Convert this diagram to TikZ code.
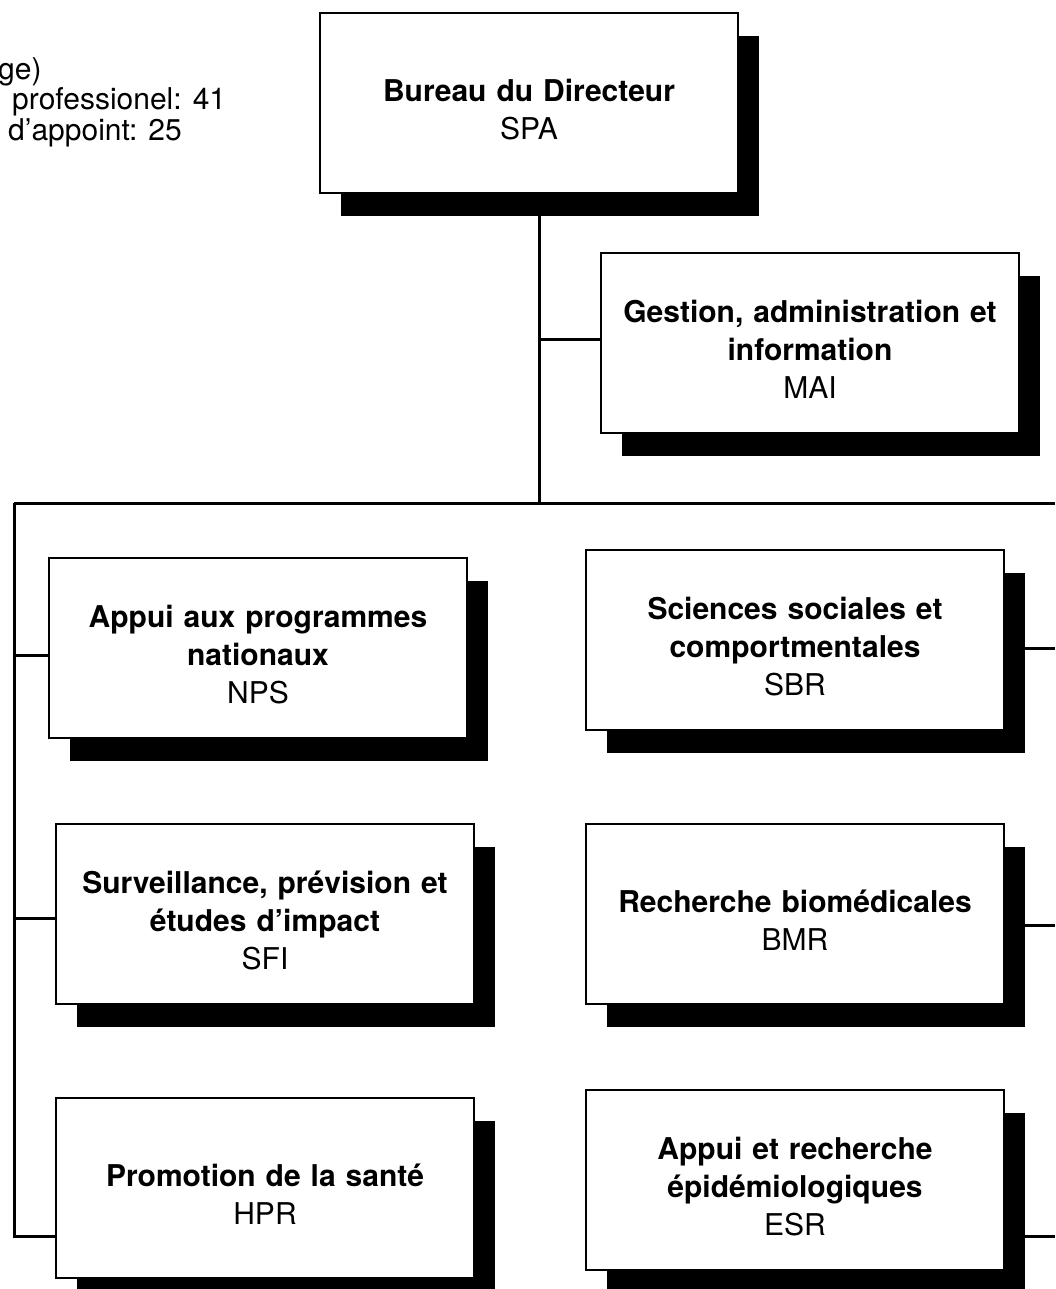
\documentclass[tikz,border=0pt]{standalone}
\usepackage{fontspec}
\setmainfont{TeX Gyre Heros}
\usetikzlibrary{positioning,shadows,calc}

\begin{document}
\begin{tikzpicture}[x=1pt,y=-1pt,font=\fontsize{30}{38}\selectfont]
 \tikzset{box/.style={draw,line width=2.5pt,fill=white,align=center,minimum width=418pt,minimum height=180pt,text width=405pt,
            text height=35pt,
            drop shadow={shadow xshift=21pt,shadow yshift=-23pt,fill=black,opacity=1}},
          conn/.style={line width=3pt},
          note/.style={anchor=base west,inner sep=0pt}}
 \useasboundingbox (0,0) rectangle (1055,1289);
 % effectifs, coupes au bord gauche
 \node[note] (eff1) at (-2,80) {ge)};
 \node[note] (eff2) at (12,110) {professionel: 41};
 \node[note] (eff3) at (8,141) {d'appoint: 25};
 % directeur et gestion
 \node[box] (spa) at (529,103) {\textbf{Bureau du Directeur}\\SPA};
 \node[box] (mai) at (810,343) {\textbf{Gestion, administration et}\\\textbf{information}\\MAI};
 % unites
 \node[box] (nps) at (258,648) {\textbf{Appui aux programmes}\\\textbf{nationaux}\\NPS};
 \node[box] (sbr) at (795,640) {\textbf{Sciences sociales et}\\\textbf{comportmentales}\\SBR};
 \node[box] (sfi) at (265,914) {\textbf{Surveillance, prévision et}\\\textbf{études d'impact}\\SFI};
 \node[box] (bmr) at (795,914) {\textbf{Recherche biomédicales}\\BMR};
 \node[box] (hpr) at (265,1188) {\textbf{Promotion de la santé}\\HPR};
 \node[box] (esr) at (795,1180) {\textbf{Appui et recherche}\\\textbf{épidémiologiques}\\ESR};
 % liaisons
 \coordinate (bus) at (539,503);
 \coordinate (busl) at (14,503);
 \coordinate (busr) at (1055,503);
 \draw[conn] (spa.south -| bus) -- (bus);
 \draw[conn] ([yshift=4pt]mai.west -| bus) -- ([yshift=4pt]mai.west);
 \draw[conn] (busl) -- (busr);
 \draw[conn] (busl) |- ([yshift=-48pt]hpr.west);
 \draw[conn] ([yshift=-7pt]nps.west -| busl) -- ([yshift=-7pt]nps.west);
 \draw[conn] ([yshift=-4pt]sfi.west -| busl) -- ([yshift=-4pt]sfi.west);
 \draw[conn] ([yshift=-8pt]sbr.east) -- ([yshift=-8pt]sbr.east -| busr);
 \draw[conn] ([yshift=-11pt]bmr.east) -- ([yshift=-11pt]bmr.east -| busr);
 \draw[conn] ([yshift=-56pt]esr.east) -- ([yshift=-56pt]esr.east -| busr);
\end{tikzpicture}
\end{document}
